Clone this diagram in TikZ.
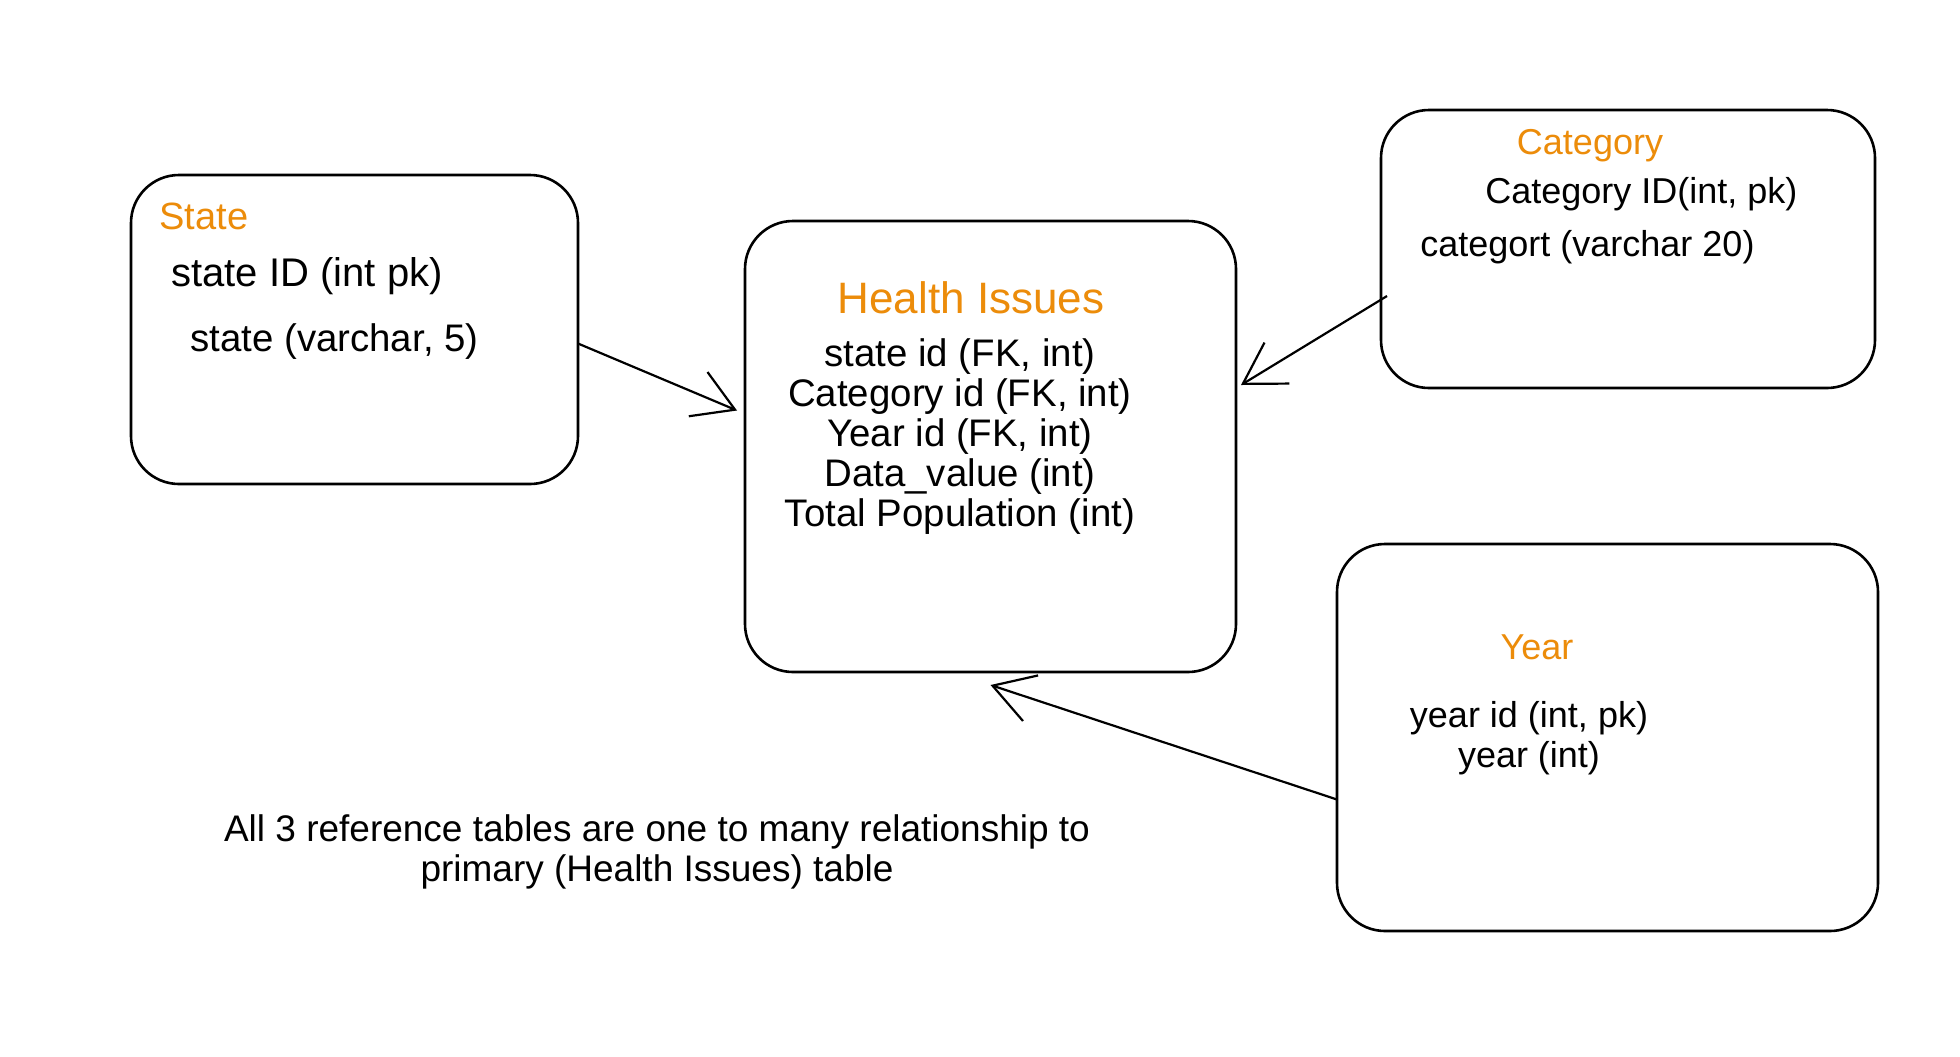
\documentclass[tikz,border=0pt]{standalone}
\usepackage{fontspec}
\setmainfont{Liberation Sans}
\usetikzlibrary{arrows.meta,calc}
\definecolor{ttlorange}{RGB}{236,140,10}
\tikzset{
  tbl/.style={draw=black, line width=1.3pt, rounded corners=24pt, inner sep=0pt, outer sep=0pt, fill=none},
  txt/.style={inner sep=0pt, font=\fontsize{18}{20}\selectfont, text=black},
  bodytxt/.style={inner sep=0pt, font=\fontsize{19.2}{20}\selectfont, text=black},
  ttl/.style={inner sep=0pt, font=\fontsize{18}{20}\selectfont, text=ttlorange},
  bigttl/.style={inner sep=0pt, font=\fontsize{22}{24}\selectfont, text=ttlorange},
  rel/.style={draw=black, line width=1.1pt, -{Straight Barb[length=20pt,width=24pt,line width=1.1pt]}},
}
\begin{document}
\begin{tikzpicture}[x=0.5pt,y=-0.5pt]
\useasboundingbox[fill=white] (0,0) rectangle (1960,1056);

% tables
\node[tbl, minimum width=223.5pt, minimum height=154.5pt] (st) at (354.5,329.5) {};
\node[tbl, minimum width=245.5pt, minimum height=225.5pt] (hi) at (990.5,446.5) {};
\node[tbl, minimum width=247pt, minimum height=139pt] (cat) at (1628,249) {};
\node[tbl, minimum width=270.5pt, minimum height=193.5pt] (yr) at (1607.5,737.5) {};

% State
\node[ttl, anchor=west, font=\fontsize{19}{20}\selectfont] (stT) at (159,216) {State};
\node[bodytxt, anchor=west, font=\fontsize{20}{20}\selectfont] (st1) at (171,276) {state ID (int pk)};
\node[bodytxt, anchor=west] (st2) at (190,342) {state (varchar, 5)};

% Health Issues
\node[bigttl] (hiT) at (971,298) {Health Issues};
\node[bodytxt] (hi1) at (960,357) {state id (FK, int)};
\node[bodytxt] (hi2) at (960,397) {Category id (FK, int)};
\node[bodytxt] (hi3) at (960,437) {Year id (FK, int)};
\node[bodytxt] (hi4) at (960,477) {Data\_value (int)};
\node[bodytxt] (hi5) at (960,517) {Total Population (int)};

% Category
\node[ttl] (catT) at (1590,146) {Category};
\node[txt, anchor=west] (cat1) at (1485,194) {Category ID(int, pk)};
\node[txt, anchor=west] (cat2) at (1420,247) {categort (varchar 20)};

% Year
\node[ttl] (yrT) at (1537,647) {Year};
\node[txt] (yr1) at (1529,718) {year id (int, pk)};
\node[txt] (yr2) at (1529,758) {year (int)};

% caption
\node[txt, align=center, font=\fontsize{18.5}{20}\selectfont] (cap) at (657,852)
  {All 3 reference tables are one to many relationship to\\primary (Health Issues) table};

% relationships
\draw[rel] ([yshift=-7pt]st.east) -- ([xshift=-4pt,yshift=18pt]hi.west);
\draw[rel] ([xshift=3pt,yshift=-23.5pt]cat.west) -- ([xshift=2.5pt,yshift=30.75pt]hi.east);
\draw[rel] ([yshift=-31pt]yr.west) -- ([yshift=-6.5pt]hi.south);
\end{tikzpicture}
\end{document}
